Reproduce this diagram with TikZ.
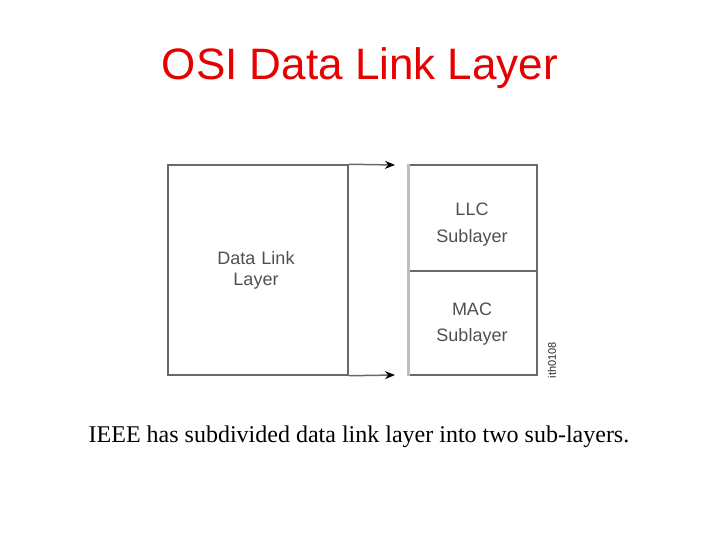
\documentclass[tikz,border=0pt]{standalone}
\usepackage{fontspec}
\setmainfont{Liberation Serif}
\newfontfamily\arial{Liberation Sans}
\usetikzlibrary{arrows.meta}
\definecolor{titlered}{RGB}{230,0,0}
\definecolor{linegray}{RGB}{105,105,105}
\definecolor{lightline}{RGB}{190,190,190}
\definecolor{textgray}{RGB}{80,80,80}
\tikzset{
  boxline/.style={draw=linegray, line width=1.5pt},
  lbl/.style={text=textgray, font=\arial\fontsize{18}{21}\selectfont, align=center},
  arr/.style={draw=linegray, line width=1.5pt, -{Stealth[length=10pt,width=8pt,color=black]}}
}
\begin{document}
\begin{tikzpicture}[x=1pt,y=-1pt]
\useasboundingbox (0,0) rectangle (720,540);
\node[text=titlered, font=\arial\fontsize{44}{50}\selectfont] (title) at (360,68) {OSI Data Link Layer};
% left box
\node[boxline, minimum width=180pt, minimum height=210pt, inner sep=0pt] (dl) at (258,270) {};
\node[lbl, text width=120pt, font=\arial\fontsize{18}{21}\selectfont] (dltext) at (256,270) {Data Link\\Layer};
\coordinate (atop) at (395,165);
\coordinate (abot) at (395,375);
\draw[arr] (dl.north east) -- (atop);
\draw[arr] (dl.south east) -- (abot);
% right boxes
\node[boxline, minimum width=128pt, minimum height=106pt, inner sep=0pt] (llc) at (473,218) {};
\node[boxline, minimum width=128pt, minimum height=104pt, inner sep=0pt] (mac) at (473,323) {};
\draw[lightline, line width=3pt] (llc.north west) -- (mac.south west);
\node[lbl, font=\arial\fontsize{18}{27}\selectfont] (llctext) at (472,225) {LLC\\Sublayer};
\node[lbl, font=\arial\fontsize{18}{26}\selectfont] (mactext) at (472,324) {MAC\\Sublayer};
\node[rotate=90, text=black!85, font=\arial\fontsize{11}{12}\selectfont] (fid) at (552,360) {ith0108};
% caption
\node[font=\fontsize{24}{28}\selectfont] (cap) at (359,437) {IEEE has subdivided data link layer into two sub-layers.};
\end{tikzpicture}
\end{document}
